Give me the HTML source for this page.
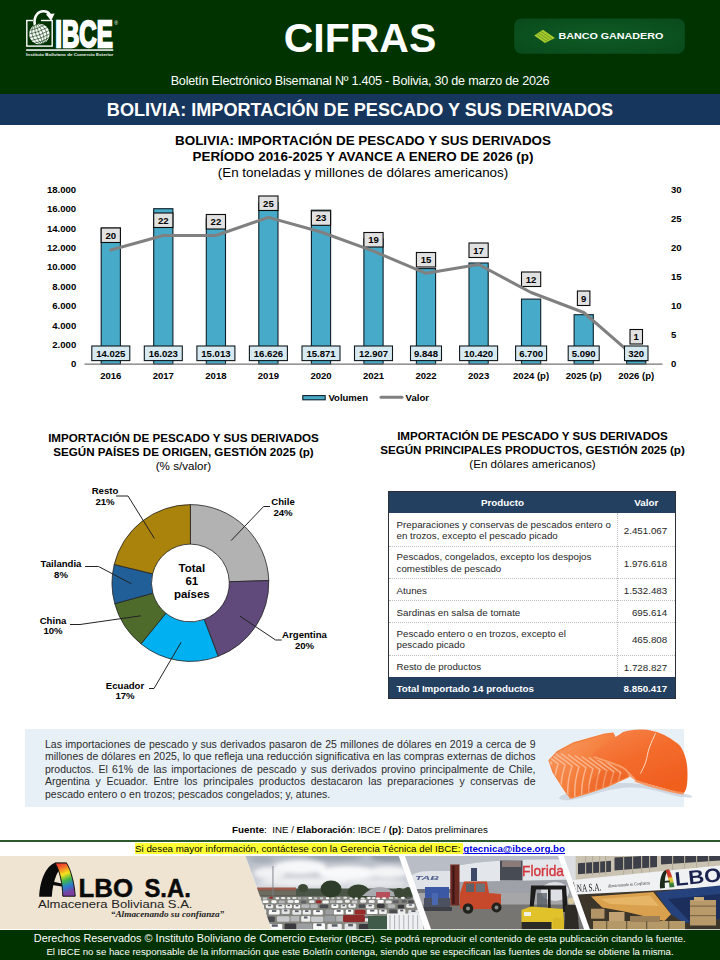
<!DOCTYPE html>
<html lang="es">
<head>
<meta charset="utf-8">
<title>CIFRAS - IBCE</title>
<style>
html,body{margin:0;padding:0;}
body{width:720px;height:960px;position:relative;overflow:hidden;background:#fff;font-family:"Liberation Sans",sans-serif;color:#000;}
.abs{position:absolute;}
#hdr{left:0;top:0;width:720px;height:94px;background:#003300;}
#cifras{left:0;top:15px;width:720px;text-align:center;color:#fff;font-weight:bold;font-size:41px;line-height:46px;}
#sub{left:0;top:72.2px;width:720px;text-align:center;color:#fff;font-size:12.6px;letter-spacing:-0.22px;line-height:18px;}
#bar{left:0;top:93.8px;width:720px;height:31.2px;background:#17365d;}
#bartxt{left:0;top:95px;width:720px;height:31px;line-height:31px;text-align:center;color:#fff;font-weight:bold;font-size:18.1px;}
svg{position:absolute;left:0;top:0;overflow:visible;}
svg text{font-family:"Liberation Sans",sans-serif;}
.ct{left:0;width:720px;text-align:center;font-size:13.45px;line-height:16px;font-weight:bold;}
.ct span{font-weight:normal;}

.t2{font-size:11.62px;line-height:13.75px;font-weight:bold;text-align:center;white-space:nowrap;}
.t2 span{font-weight:normal;}
#tbl{left:388px;top:491px;width:288px;border-collapse:collapse;font-size:10px;line-height:11.5px;color:#262626;}

.th{background:#244061;}
.thx{color:#fff;font-weight:bold;font-size:9.8px;text-align:center;white-space:nowrap;}
.td{font-size:9.78px;line-height:11.5px;color:#262626;white-space:nowrap;}

#pbox{left:25px;top:729px;width:659px;height:77.5px;background:#e8f0f7;}
#ptxt{left:45px;top:737.5px;width:490.5px;font-size:10.5px;line-height:12.5px;color:#2b2b2b;text-align:justify;text-align-last:left;}
#ptxt div{text-align:justify;text-align-last:justify;white-space:nowrap;}
#ptxt div.last{text-align-last:left;}
#fuente{left:0;top:824px;width:720px;text-align:center;font-size:9.76px;line-height:12px;white-space:nowrap;}
#gline{left:0;top:839.8px;width:720px;height:1.8px;background:#2d5a2d;}
#yl{left:135px;top:843.3px;height:11px;line-height:11.6px;font-size:9.77px;white-space:nowrap;}
#yl span.y{background:#ffff33;display:inline-block;height:11px;}
#yl b{color:#0000e0;text-decoration:underline;}

#banner{left:0;top:856px;width:720px;height:73.2px;background:#efe4d1;}
#foot{left:0;top:930px;width:720px;height:30px;background:#003300;}
.ft{color:#fff;white-space:nowrap;}
#ft1{left:33.8px;top:932.4px;font-size:10.9px;line-height:13px;letter-spacing:0px;}
#ft1 span{font-size:9.9px;letter-spacing:-0.04px;}
#ft2{left:46.4px;top:944.5px;font-size:9.7px;line-height:13px;letter-spacing:-0.035px;}
</style>
</head>
<body>
<div id="hdr" class="abs"></div>
<div id="cifras" class="abs">CIFRAS</div>
<div id="sub" class="abs">Boletín Electrónico Bisemanal Nº 1.405 - Bolivia, 30 de marzo de 2026</div>
<div id="bar" class="abs"></div>
<div id="bartxt" class="abs">BOLIVIA: IMPORTACIÓN DE PESCADO Y SUS DERIVADOS</div>
<div class="abs ct" style="top:133.4px;left:3px;">BOLIVIA: IMPORTACIÓN DE PESCADO Y SUS DERIVADOS<br>PERÍODO 2016-2025 Y AVANCE A ENERO DE 2026 (p)<br><span>(En toneladas y millones de dólares americanos)</span></div>
<svg width="720" height="960" viewBox="0 0 720 960">
<text x="76.2" y="367.4" text-anchor="end" font-size="9.55" font-weight="bold">0</text>
<text x="76.2" y="348.0" text-anchor="end" font-size="9.55" font-weight="bold">2.000</text>
<text x="76.2" y="328.6" text-anchor="end" font-size="9.55" font-weight="bold">4.000</text>
<text x="76.2" y="309.2" text-anchor="end" font-size="9.55" font-weight="bold">6.000</text>
<text x="76.2" y="289.8" text-anchor="end" font-size="9.55" font-weight="bold">8.000</text>
<text x="76.2" y="270.4" text-anchor="end" font-size="9.55" font-weight="bold">10.000</text>
<text x="76.2" y="251.0" text-anchor="end" font-size="9.55" font-weight="bold">12.000</text>
<text x="76.2" y="231.6" text-anchor="end" font-size="9.55" font-weight="bold">14.000</text>
<text x="76.2" y="212.2" text-anchor="end" font-size="9.55" font-weight="bold">16.000</text>
<text x="76.2" y="192.8" text-anchor="end" font-size="9.55" font-weight="bold">18.000</text>
<text x="671" y="367.4" font-size="9.55" font-weight="bold">0</text>
<text x="671" y="338.3" font-size="9.55" font-weight="bold">5</text>
<text x="671" y="309.2" font-size="9.55" font-weight="bold">10</text>
<text x="671" y="280.1" font-size="9.55" font-weight="bold">15</text>
<text x="671" y="251.1" font-size="9.55" font-weight="bold">20</text>
<text x="671" y="222.0" font-size="9.55" font-weight="bold">25</text>
<text x="671" y="192.9" font-size="9.55" font-weight="bold">30</text>
<rect x="101.2" y="228.1" width="19.2" height="136.0" fill="#47aac8" stroke="#0e2028" stroke-width="1.1"/>
<rect x="153.7" y="208.7" width="19.2" height="155.4" fill="#47aac8" stroke="#0e2028" stroke-width="1.1"/>
<rect x="206.3" y="218.5" width="19.2" height="145.6" fill="#47aac8" stroke="#0e2028" stroke-width="1.1"/>
<rect x="258.8" y="202.8" width="19.2" height="161.3" fill="#47aac8" stroke="#0e2028" stroke-width="1.1"/>
<rect x="311.4" y="210.2" width="19.2" height="153.9" fill="#47aac8" stroke="#0e2028" stroke-width="1.1"/>
<rect x="363.9" y="238.9" width="19.2" height="125.2" fill="#47aac8" stroke="#0e2028" stroke-width="1.1"/>
<rect x="416.4" y="268.6" width="19.2" height="95.5" fill="#47aac8" stroke="#0e2028" stroke-width="1.1"/>
<rect x="469.0" y="263.0" width="19.2" height="101.1" fill="#47aac8" stroke="#0e2028" stroke-width="1.1"/>
<rect x="521.5" y="299.1" width="19.2" height="65.0" fill="#47aac8" stroke="#0e2028" stroke-width="1.1"/>
<rect x="574.1" y="314.7" width="19.2" height="49.4" fill="#47aac8" stroke="#0e2028" stroke-width="1.1"/>
<rect x="626.6" y="361.0" width="19.2" height="3.1" fill="#47aac8" stroke="#0e2028" stroke-width="1.1"/>
<line x1="84.5" y1="364.1" x2="662.5" y2="364.1" stroke="#747474" stroke-width="1.4"/>
<rect x="101.2" y="228.0" width="19.2" height="14.5" fill="#e1e1e1" stroke="#0c0c0c" stroke-width="1.1"/>
<text x="110.8" y="238.7" text-anchor="middle" font-size="9.55" font-weight="bold">20</text>
<rect x="153.7" y="213.0" width="19.2" height="14.5" fill="#e1e1e1" stroke="#0c0c0c" stroke-width="1.1"/>
<text x="163.3" y="223.7" text-anchor="middle" font-size="9.55" font-weight="bold">22</text>
<rect x="206.3" y="214.5" width="19.2" height="14.5" fill="#e1e1e1" stroke="#0c0c0c" stroke-width="1.1"/>
<text x="215.9" y="225.2" text-anchor="middle" font-size="9.55" font-weight="bold">22</text>
<rect x="258.8" y="196.0" width="19.2" height="14.5" fill="#e1e1e1" stroke="#0c0c0c" stroke-width="1.1"/>
<text x="268.4" y="206.7" text-anchor="middle" font-size="9.55" font-weight="bold">25</text>
<rect x="311.4" y="210.8" width="19.2" height="14.5" fill="#e1e1e1" stroke="#0c0c0c" stroke-width="1.1"/>
<text x="321.0" y="221.4" text-anchor="middle" font-size="9.55" font-weight="bold">23</text>
<rect x="363.9" y="232.5" width="19.2" height="14.5" fill="#e1e1e1" stroke="#0c0c0c" stroke-width="1.1"/>
<text x="373.5" y="243.2" text-anchor="middle" font-size="9.55" font-weight="bold">19</text>
<rect x="416.4" y="252.5" width="19.2" height="14.5" fill="#e1e1e1" stroke="#0c0c0c" stroke-width="1.1"/>
<text x="426.0" y="263.2" text-anchor="middle" font-size="9.55" font-weight="bold">15</text>
<rect x="469.0" y="243.0" width="19.2" height="14.5" fill="#e1e1e1" stroke="#0c0c0c" stroke-width="1.1"/>
<text x="478.6" y="253.7" text-anchor="middle" font-size="9.55" font-weight="bold">17</text>
<rect x="521.5" y="272.0" width="19.2" height="14.5" fill="#e1e1e1" stroke="#0c0c0c" stroke-width="1.1"/>
<text x="531.1" y="282.7" text-anchor="middle" font-size="9.55" font-weight="bold">12</text>
<rect x="577.4" y="291.0" width="12.5" height="14.5" fill="#e1e1e1" stroke="#0c0c0c" stroke-width="1.1"/>
<text x="583.7" y="301.7" text-anchor="middle" font-size="9.55" font-weight="bold">9</text>
<rect x="630.0" y="329.5" width="12.5" height="14.5" fill="#e1e1e1" stroke="#0c0c0c" stroke-width="1.1"/>
<text x="636.2" y="340.2" text-anchor="middle" font-size="9.55" font-weight="bold">1</text>
<polyline points="110.8,250.0 163.3,235.5 215.9,235.5 268.4,217.4 321.0,232.0 373.5,251.2 426.0,273.3 478.6,264.5 531.1,292.5 583.7,312.5 636.2,358.2" fill="none" stroke="#808080" stroke-width="3" stroke-linejoin="round" stroke-linecap="round"/>
<rect x="91.8" y="346" width="38" height="14.6" fill="#d7e9f1" stroke="#10181c" stroke-width="1.1"/>
<text x="110.8" y="356.8" text-anchor="middle" font-size="9.55" font-weight="bold">14.025</text>
<text x="110.8" y="379" text-anchor="middle" font-size="9.55" font-weight="bold">2016</text>
<rect x="144.3" y="346" width="38" height="14.6" fill="#d7e9f1" stroke="#10181c" stroke-width="1.1"/>
<text x="163.3" y="356.8" text-anchor="middle" font-size="9.55" font-weight="bold">16.023</text>
<text x="163.3" y="379" text-anchor="middle" font-size="9.55" font-weight="bold">2017</text>
<rect x="196.9" y="346" width="38" height="14.6" fill="#d7e9f1" stroke="#10181c" stroke-width="1.1"/>
<text x="215.9" y="356.8" text-anchor="middle" font-size="9.55" font-weight="bold">15.013</text>
<text x="215.9" y="379" text-anchor="middle" font-size="9.55" font-weight="bold">2018</text>
<rect x="249.4" y="346" width="38" height="14.6" fill="#d7e9f1" stroke="#10181c" stroke-width="1.1"/>
<text x="268.4" y="356.8" text-anchor="middle" font-size="9.55" font-weight="bold">16.626</text>
<text x="268.4" y="379" text-anchor="middle" font-size="9.55" font-weight="bold">2019</text>
<rect x="302.0" y="346" width="38" height="14.6" fill="#d7e9f1" stroke="#10181c" stroke-width="1.1"/>
<text x="321.0" y="356.8" text-anchor="middle" font-size="9.55" font-weight="bold">15.871</text>
<text x="321.0" y="379" text-anchor="middle" font-size="9.55" font-weight="bold">2020</text>
<rect x="354.5" y="346" width="38" height="14.6" fill="#d7e9f1" stroke="#10181c" stroke-width="1.1"/>
<text x="373.5" y="356.8" text-anchor="middle" font-size="9.55" font-weight="bold">12.907</text>
<text x="373.5" y="379" text-anchor="middle" font-size="9.55" font-weight="bold">2021</text>
<rect x="410.5" y="346" width="31" height="14.6" fill="#d7e9f1" stroke="#10181c" stroke-width="1.1"/>
<text x="426.0" y="356.8" text-anchor="middle" font-size="9.55" font-weight="bold">9.848</text>
<text x="426.0" y="379" text-anchor="middle" font-size="9.55" font-weight="bold">2022</text>
<rect x="459.6" y="346" width="38" height="14.6" fill="#d7e9f1" stroke="#10181c" stroke-width="1.1"/>
<text x="478.6" y="356.8" text-anchor="middle" font-size="9.55" font-weight="bold">10.420</text>
<text x="478.6" y="379" text-anchor="middle" font-size="9.55" font-weight="bold">2023</text>
<rect x="515.6" y="346" width="31" height="14.6" fill="#d7e9f1" stroke="#10181c" stroke-width="1.1"/>
<text x="531.1" y="356.8" text-anchor="middle" font-size="9.55" font-weight="bold">6.700</text>
<text x="531.1" y="379" text-anchor="middle" font-size="9.55" font-weight="bold">2024 (p)</text>
<rect x="568.2" y="346" width="31" height="14.6" fill="#d7e9f1" stroke="#10181c" stroke-width="1.1"/>
<text x="583.7" y="356.8" text-anchor="middle" font-size="9.55" font-weight="bold">5.090</text>
<text x="583.7" y="379" text-anchor="middle" font-size="9.55" font-weight="bold">2025 (p)</text>
<rect x="624.5" y="346" width="23.5" height="14.6" fill="#d7e9f1" stroke="#10181c" stroke-width="1.1"/>
<text x="636.2" y="356.8" text-anchor="middle" font-size="9.55" font-weight="bold">320</text>
<text x="636.2" y="379" text-anchor="middle" font-size="9.55" font-weight="bold">2026 (p)</text>
<rect x="302.8" y="395.6" width="22.4" height="4.2" fill="#47aac8" stroke="#0e2028" stroke-width="1.1"/>
<text x="328.4" y="400.6" font-size="9.55" font-weight="bold">Volumen</text>
<line x1="381" y1="397.3" x2="402" y2="397.3" stroke="#808080" stroke-width="3" stroke-linecap="round"/>
<text x="405.6" y="400.6" font-size="9.55" font-weight="bold">Valor</text>
</svg>
<svg width="720" height="130" viewBox="0 0 720 130">
<rect x="26.8" y="20.5" width="25.4" height="25.6" fill="none" stroke="#fff" stroke-width="1.4"/>
<rect x="33" y="19" width="8" height="3" fill="#003300"/>
<circle cx="39.4" cy="34" r="10.3" fill="#fff"/>
<g stroke="#003300" stroke-width="0.55" fill="none" transform="rotate(-20 39.4 34)">
<ellipse cx="39.4" cy="34" rx="3.4" ry="10.3"/>
<ellipse cx="39.4" cy="34" rx="7.2" ry="10.3"/>
<line x1="39.4" y1="23.7" x2="39.4" y2="44.3"/>
<path d="M31.7,27.2 Q39.4,28.8 47.1,27.2"/>
<path d="M29.7,30.6 Q39.4,32.2 49.1,30.6"/>
<path d="M29.1,34.0 Q39.4,35.6 49.7,34.0"/>
<path d="M29.7,37.4 Q39.4,39.0 49.1,37.4"/>
<path d="M31.7,40.8 Q39.4,42.4 47.1,40.8"/>
</g>
<path d="M33.6,25.5 C31.8,15.5 37.5,9.6 44,10 C48.5,10.3 50.8,12.5 51.3,15.2 L48.2,15.6 C47.5,13.6 46,12.6 43.6,12.5 C39,12.4 35,16.5 36,24.3 Z" fill="#fff"/>
<path d="M45.9,14.2 L54.6,13.4 L51.2,20.8 Z" fill="#fff"/>
<text x="55.3" y="46.6" font-size="36.8" font-weight="bold" fill="#fff" stroke="#fff" stroke-width="2.3" stroke-linejoin="miter" textLength="57.4" lengthAdjust="spacingAndGlyphs">IBCE</text>
<text x="114.3" y="25.3" font-size="5" fill="#fff">®</text>
<rect x="26.1" y="49.3" width="87.2" height="1.5" fill="#fff"/>
<text x="26.1" y="56.3" font-size="4.2" font-weight="bold" fill="#e8efe8" textLength="87.2" lengthAdjust="spacingAndGlyphs">Instituto Boliviano de Comercio Exterior</text>
</svg>
<svg width="720" height="130" viewBox="0 0 720 130">
<defs><radialGradient id="bg" cx="0.5" cy="0.5" r="0.75"><stop offset="0" stop-color="#0e5c25"/><stop offset="1" stop-color="#09481b"/></radialGradient></defs>
<rect x="514.2" y="18.4" width="170.6" height="35.3" rx="7.5" fill="url(#bg)"/>
<path d="M534.2,35.4 L542.9,29.8 L555,37.9 L545,42.9 Z" fill="#a9cb2e"/>
<path d="M540.6,31.3 L552.3,39.2 M538.4,32.7 L549.8,40.5 M536.2,34.1 L547.3,41.8 " stroke="#5f8f1c" stroke-width="0.8" fill="none"/>
<text x="558.4" y="38.9" font-size="9.3" font-weight="bold" fill="#fff" textLength="105" lengthAdjust="spacingAndGlyphs">BANCO GANADERO</text>
</svg>
<div class="abs t2" style="left:0;top:431.1px;width:367px;">IMPORTACIÓN DE PESCADO Y SUS DERIVADOS<br>SEGÚN PAÍSES DE ORIGEN, GESTIÓN 2025 (p)<br><span>(% s/valor)</span></div>
<svg width="720" height="960" viewBox="0 0 720 960">
<path d="M190.40,504.60 A78.4,78.4 0 0 1 268.76,580.54 L229.28,581.78 A38.9,38.9 0 0 0 190.40,544.10 Z" fill="#b2b2b2" stroke="#222" stroke-width="0.8" stroke-linejoin="round"/>
<path d="M268.76,580.54 A78.4,78.4 0 0 1 218.11,656.34 L204.15,619.39 A38.9,38.9 0 0 0 229.28,581.78 Z" fill="#604a7b" stroke="#222" stroke-width="0.8" stroke-linejoin="round"/>
<path d="M218.11,656.34 A78.4,78.4 0 0 1 141.00,643.88 L165.89,613.21 A38.9,38.9 0 0 0 204.15,619.39 Z" fill="#00b0f0" stroke="#222" stroke-width="0.8" stroke-linejoin="round"/>
<path d="M141.00,643.88 A78.4,78.4 0 0 1 114.78,603.69 L152.88,593.26 A38.9,38.9 0 0 0 165.89,613.21 Z" fill="#4f6b2c" stroke="#222" stroke-width="0.8" stroke-linejoin="round"/>
<path d="M114.78,603.69 A78.4,78.4 0 0 1 114.22,564.46 L152.60,573.80 A38.9,38.9 0 0 0 152.88,593.26 Z" fill="#215f99" stroke="#222" stroke-width="0.8" stroke-linejoin="round"/>
<path d="M114.22,564.46 A78.4,78.4 0 0 1 190.40,504.60 L190.40,544.10 A38.9,38.9 0 0 0 152.60,573.80 Z" fill="#a9830b" stroke="#222" stroke-width="0.8" stroke-linejoin="round"/>
<polyline points="231.1,540.6 263.6,506.5 270,506.5" fill="none" stroke="#222" stroke-width="1"/>
<polyline points="240,616.2 275.6,640 281.7,640" fill="none" stroke="#222" stroke-width="1"/>
<polyline points="181.1,642.3 154,688.5 149,688.5" fill="none" stroke="#222" stroke-width="1"/>
<polyline points="140.8,615.8 80,624.5 70,624.5" fill="none" stroke="#222" stroke-width="1"/>
<polyline points="131.5,583.8 98.5,566.5 85,566.5" fill="none" stroke="#222" stroke-width="1"/>
<polyline points="154.4,538.5 128,496 116,496" fill="none" stroke="#222" stroke-width="1"/>
<text x="283" y="504.8" text-anchor="middle" font-size="9.6" font-weight="bold">Chile</text>
<text x="283" y="515.55" text-anchor="middle" font-size="9.6" font-weight="bold">24%</text>
<text x="304.5" y="638.2" text-anchor="middle" font-size="9.6" font-weight="bold">Argentina</text>
<text x="304.5" y="648.95" text-anchor="middle" font-size="9.6" font-weight="bold">20%</text>
<text x="125" y="688.5" text-anchor="middle" font-size="9.6" font-weight="bold">Ecuador</text>
<text x="125" y="699.25" text-anchor="middle" font-size="9.6" font-weight="bold">17%</text>
<text x="53" y="623.5" text-anchor="middle" font-size="9.6" font-weight="bold">China</text>
<text x="53" y="634.25" text-anchor="middle" font-size="9.6" font-weight="bold">10%</text>
<text x="61" y="567" text-anchor="middle" font-size="9.6" font-weight="bold">Tailandia</text>
<text x="61" y="577.75" text-anchor="middle" font-size="9.6" font-weight="bold">8%</text>
<text x="105" y="494.3" text-anchor="middle" font-size="9.6" font-weight="bold">Resto</text>
<text x="105" y="505.05" text-anchor="middle" font-size="9.6" font-weight="bold">21%</text>
<text x="191.8" y="571.8" text-anchor="middle" font-size="11.5" font-weight="bold">Total</text>
<text x="191.8" y="585.0" text-anchor="middle" font-size="11.5" font-weight="bold">61</text>
<text x="191.8" y="598.2" text-anchor="middle" font-size="11.5" font-weight="bold">países</text>
</svg>
<div class="abs t2" style="left:345px;top:429.1px;width:375px;">IMPORTACIÓN DE PESCADO Y SUS DERIVADOS<br>SEGÚN PRINCIPALES PRODUCTOS, GESTIÓN 2025 (p)<br><span>(En dólares americanos)</span></div>
<div class="abs" id="tblwrap">
<div class="abs th" style="left:388px;top:491px;width:287.5px;height:22px;"></div>
<div class="abs thx" style="left:388px;top:491.3px;width:229px;height:21.2px;line-height:23.4px;">Producto</div>
<div class="abs thx" style="left:617px;top:491.3px;width:58.5px;height:21.2px;line-height:23.4px;">Valor</div>
<div class="abs td" style="left:396.5px;top:518.5px;">Preparaciones y conservas de pescados entero o<br>en trozos, excepto el pescado picado</div>
<div class="abs td" style="left:617px;width:50.2px;text-align:right;top:525.0px;">2.451.067</div>
<div class="abs" style="left:389px;top:545.5px;width:285.5px;border-top:1px dotted #bdbdbd;"></div>
<div class="abs td" style="left:396.5px;top:551.3px;">Pescados, congelados, excepto los despojos<br>comestibles de pescado</div>
<div class="abs td" style="left:617px;width:50.2px;text-align:right;top:557.8px;">1.976.618</div>
<div class="abs" style="left:389px;top:577.5px;width:285.5px;border-top:1px dotted #bdbdbd;"></div>
<div class="abs td" style="left:396.5px;top:584.5px;">Atunes</div>
<div class="abs td" style="left:617px;width:50.2px;text-align:right;top:585.0px;">1.532.483</div>
<div class="abs" style="left:389px;top:600.0px;width:285.5px;border-top:1px dotted #bdbdbd;"></div>
<div class="abs td" style="left:396.5px;top:606.5px;">Sardinas en salsa de tomate</div>
<div class="abs td" style="left:617px;width:50.2px;text-align:right;top:607.0px;">695.614</div>
<div class="abs" style="left:389px;top:621.5px;width:285.5px;border-top:1px dotted #bdbdbd;"></div>
<div class="abs td" style="left:396.5px;top:627.8px;">Pescado entero o en trozos, excepto el<br>pescado picado</div>
<div class="abs td" style="left:617px;width:50.2px;text-align:right;top:634.2px;">465.808</div>
<div class="abs" style="left:389px;top:654.5px;width:285.5px;border-top:1px dotted #bdbdbd;"></div>
<div class="abs td" style="left:396.5px;top:661.2px;">Resto de productos</div>
<div class="abs td" style="left:617px;width:50.2px;text-align:right;top:661.8px;">1.728.827</div>
<div class="abs" style="left:616.5px;top:512.5px;height:164.5px;border-left:1px dotted #bdbdbd;"></div>
<div class="abs th" style="left:388px;top:677.0px;width:287.5px;height:21.8px;"></div>
<div class="abs thx" style="left:396.5px;top:677.0px;height:21.8px;line-height:23px;text-align:left;">Total Importado 14 productos</div>
<div class="abs thx" style="left:617px;width:50.2px;top:677.0px;height:21.8px;line-height:23px;text-align:right;">8.850.417</div>
<div class="abs" style="left:388px;top:491.3px;width:286.1px;height:206.1px;border:0.7px solid #2a2f38;"></div>
</div>
<div id="pbox" class="abs"></div>
<div id="ptxt" class="abs">
<div>Las importaciones de pescado y sus derivados pasaron de 25 millones de dólares en 2019 a cerca de 9</div>
<div>millones de dólares en 2025, lo que refleja una reducción significativa en las compras externas de dichos</div>
<div>productos. El 61% de las importaciones de pescado y sus derivados provino principalmente de Chile,</div>
<div>Argentina y Ecuador. Entre los principales productos destacaron las preparaciones y conservas de</div>
<div class="last">pescado entero o en trozos; pescados congelados; y, atunes.</div>
</div>
<div id="fuente" class="abs"><b>Fuente</b>:&nbsp; INE / <b>Elaboración</b>: IBCE / <b>(p)</b>: Datos preliminares</div>
<div id="gline" class="abs"></div>
<div id="yl" class="abs"><span class="y">Si desea mayor información, contáctese con la Gerencia Técnica del IBCE:&nbsp;</span><b>gtecnica@ibce.org.bo</b></div>
<svg width="720" height="960" viewBox="0 0 720 960">
<defs><linearGradient id="s1" x1="0" y1="0" x2="1" y2="0.8"><stop offset="0" stop-color="#f8a06a"/><stop offset="0.5" stop-color="#f5803f"/><stop offset="1" stop-color="#ee6424"/></linearGradient><linearGradient id="s2" x1="0" y1="0" x2="0.6" y2="1"><stop offset="0" stop-color="#f7854c"/><stop offset="0.5" stop-color="#f36c2c"/><stop offset="1" stop-color="#f05e1e"/></linearGradient><filter id="sb" x="-5%" y="-5%" width="110%" height="110%"><feGaussianBlur stdDeviation="0.45"/></filter><clipPath id="c1"><path d="M549.2,760.6 L557.5,751.6 L572.8,743.3 L592.2,737.7 L604.7,734.2 L613.1,733.3 L622.8,755.8 L628.8,776.6 L607.5,786.3 L586.7,793.3 L570.7,798.1 L565.8,791.9 L553.3,772.4 Z"/></clipPath></defs>
<path d="M565.4,794.0 C576.0,790.6 600.4,782.9 624.5,782.9 C648.5,782.9 674.5,791.2 685.8,794.0 C697.2,796.9 692.5,798.4 681.1,797.1 C669.8,795.8 651.1,787.1 629.2,787.6 C607.2,788.2 584.1,798.6 571.3,799.9 C558.6,801.2 554.8,797.4 565.4,794.0 Z" fill="#c5cfda" opacity="0.7" filter="url(#sb)"/>
<g filter="url(#sb)">
<path d="M549.2,760.6 L557.5,751.6 L572.8,743.3 L592.2,737.7 L604.7,734.2 L613.1,733.3 L622.8,755.8 L628.8,776.6 L607.5,786.3 L586.7,793.3 L570.7,798.1 L565.8,791.9 L553.3,772.4 Z" fill="url(#s1)" stroke="#f5803f" stroke-width="1.5" stroke-linejoin="round"/>
<g clip-path="url(#c1)" stroke="#fbc6a6" stroke-width="1.5" fill="none" opacity="0.75" stroke-linejoin="round">
<path d="M533.2,749.7 L551.2,762.9 Q545.0,782.3 547.8,799.0"/>
<path d="M540.1,750.6 L558.2,763.8 Q551.9,783.3 554.7,799.9"/>
<path d="M547.1,751.6 L565.1,764.8 Q558.9,784.2 561.7,800.9"/>
<path d="M554.0,752.6 L572.1,765.8 Q565.8,785.2 568.6,801.9"/>
<path d="M561.0,753.6 L579.0,766.8 Q572.8,786.2 575.6,802.9"/>
<path d="M567.9,754.5 L586.0,767.7 Q579.7,787.2 582.5,803.8"/>
<path d="M574.9,755.5 L592.9,768.7 Q586.7,788.1 589.4,804.8"/>
<path d="M581.8,756.5 L599.9,769.7 Q593.6,789.1 596.4,805.8"/>
<path d="M588.8,757.4 L606.8,770.6 Q600.6,790.1 603.3,806.8"/>
<path d="M595.7,758.4 L613.8,771.6 Q607.5,791.1 610.3,807.7"/>
<path d="M602.6,759.4 L620.7,772.6 Q614.4,792.0 617.2,808.7"/>
</g>
<path d="M603.3,769.7 L628.8,776.6 L607.5,786.3 L586.7,793.3 L590.8,780.8 Z" fill="#ec5f22" opacity="0.35" clip-path="url(#c1)"/>
<path d="M592.6,756.5 C592.1,753.2 598.5,749.6 603.2,745.6 C607.9,741.6 611.0,739.7 616.2,736.6 C621.4,733.6 621.9,731.6 629.2,730.5 C636.5,729.4 643.8,728.9 652.8,731.0 C661.8,733.1 667.8,736.5 674.0,740.9 C680.3,745.3 681.3,746.6 684.0,753.2 C686.6,759.8 687.5,766.0 687.5,773.9 C687.5,781.9 687.1,789.5 684.0,792.8 C680.8,796.1 677.9,792.0 671.7,790.5 C665.4,789.0 660.3,787.5 652.8,785.3 C645.2,783.0 640.0,782.7 633.9,779.1 C627.8,775.6 627.8,770.7 622.1,767.3 C616.4,763.9 611.5,764.3 605.6,762.1 C599.7,760.0 593.0,759.8 592.6,756.5 Z" fill="url(#s2)"/>
<path d="M593.8,756.9 C596.6,757.9 602.0,759.4 607.9,761.7 C613.8,763.9 617.8,764.4 623.3,768.0 C628.7,771.7 632.7,777.5 635.1,779.9" fill="none" stroke="#f9a878" stroke-width="1.8" opacity="0.85"/>
<path d="M655.6,733.3 C654.3,736.3 651.2,742.2 649.2,748.0 C647.3,753.7 647.4,757.0 645.7,762.1 C644.0,767.2 641.5,771.2 640.5,773.5" fill="none" stroke="#fde3d2" stroke-width="1" opacity="0.9"/>
<path d="M635.1,780.6 C638.6,781.7 645.5,784.3 652.8,786.5 C660.1,788.6 665.5,790.0 671.7,791.4 C677.8,792.8 681.1,793.1 683.5,793.5" fill="none" stroke="#f7905a" stroke-width="2.2" opacity="0.9"/>
</g>
</svg>
<div id="banner" class="abs"></div>
<svg width="720" height="960" viewBox="0 0 720 960">
<defs><filter id="b1" x="-5%" y="-5%" width="110%" height="110%"><feGaussianBlur stdDeviation="0.7"/></filter><filter id="b2" x="-10%" y="-10%" width="120%" height="120%"><feGaussianBlur stdDeviation="2.2"/></filter><clipPath id="p1"><path d="M245.5,856 L398.7,856 L424.5,929.2 L271.7,929.2 Z"/></clipPath><clipPath id="p2"><path d="M404.9,856 L558,856 L584.1,929.2 L431.1,929.2 Z"/></clipPath><clipPath id="p3"><path d="M563.7,856 L720,856 L720,929.2 L589.9,929.2 Z"/></clipPath><linearGradient id="sky" x1="0" y1="0" x2="0" y2="1"><stop offset="0" stop-color="#b3b9c3"/><stop offset="0.5" stop-color="#d9dce1"/><stop offset="1" stop-color="#e6e8eb"/></linearGradient></defs>
<path d="M245.5,856 L720,856 L720,929.2 L271.7,929.2 Z" fill="#fdfdfd"/>
<g clip-path="url(#p1)">
<rect x="240" y="855" width="190" height="75" fill="url(#sky)"/>
<g filter="url(#b2)">
<ellipse cx="300" cy="867" rx="26" ry="7" fill="#f7f8f9"/>
<ellipse cx="348" cy="873" rx="30" ry="7" fill="#f8f9fa"/>
<ellipse cx="270" cy="873" rx="16" ry="6" fill="#f1f2f4"/>
<ellipse cx="388" cy="872" rx="20" ry="6" fill="#f3f4f6"/>
<ellipse cx="335" cy="857" rx="28" ry="3.5" fill="#98a0ab"/>
<ellipse cx="392" cy="857" rx="22" ry="4.5" fill="#8f97a3"/>
<ellipse cx="262" cy="859" rx="12" ry="3.5" fill="#a4abb5"/>
<ellipse cx="305" cy="882" rx="45" ry="4" fill="#eff0f2"/>
<ellipse cx="375" cy="883" rx="30" ry="3" fill="#e9ebee"/>
</g>
<g filter="url(#b1)">
<rect x="240" y="893" width="190" height="40" fill="#84857f"/>
<rect x="250" y="888.5" width="175" height="8" fill="#4b5546"/>
<rect x="257" y="887.5" width="39" height="3" fill="#9a5a48"/><rect x="257" y="890.5" width="39" height="5" fill="#6d6a60"/>
<ellipse cx="331" cy="889" rx="10.5" ry="8.5" fill="#2f3d2a"/><ellipse cx="358.5" cy="892" rx="11" ry="7.5" fill="#34422e"/><ellipse cx="303" cy="888" rx="5" ry="4" fill="#3d4a36"/>
<path d="M362,896 Q380,878 398,896 Z" fill="#a7abb0"/>
<ellipse cx="399" cy="893" rx="5" ry="5" fill="#3b4735"/><ellipse cx="408" cy="893" rx="5" ry="6" fill="#3b4735"/>
<rect x="376" y="892" width="14" height="6" fill="#b7505a"/>
<rect x="272.5" y="866" width="0.9" height="30" fill="#7b7f86"/>
<rect x="247.6" y="897.5" width="3.3" height="2.0" rx="0.8" fill="#b4b6b8"/>
<rect x="251.9" y="896.8" width="3.9" height="2.0" rx="0.8" fill="#4a4c50"/>
<rect x="257.6" y="896.8" width="3.2" height="2.0" rx="0.8" fill="#e2e3e4"/>
<rect x="262.8" y="897.6" width="4.4" height="2.0" rx="0.8" fill="#c9cacc"/>
<rect x="269.3" y="896.8" width="3.6" height="2.0" rx="0.8" fill="#9a2a28"/>
<rect x="275.6" y="897.3" width="3.5" height="2.0" rx="0.8" fill="#f6f6f6"/>
<rect x="281.1" y="897.1" width="4.0" height="2.0" rx="0.8" fill="#ededee"/>
<rect x="287.1" y="897.2" width="3.2" height="2.0" rx="0.8" fill="#ededee"/>
<rect x="292.3" y="897.1" width="4.2" height="2.0" rx="0.8" fill="#e2e3e4"/>
<rect x="297.8" y="897.3" width="3.3" height="2.0" rx="0.8" fill="#b4b6b8"/>
<rect x="303.1" y="897.3" width="4.3" height="2.0" rx="0.8" fill="#9c9fa2"/>
<rect x="308.3" y="896.9" width="3.8" height="2.0" rx="0.8" fill="#fbfbfb"/>
<rect x="314.0" y="897.3" width="3.1" height="2.0" rx="0.8" fill="#c9cacc"/>
<rect x="319.8" y="897.2" width="3.5" height="2.0" rx="0.8" fill="#c9cacc"/>
<rect x="325.9" y="897.2" width="3.2" height="2.0" rx="0.8" fill="#fbfbfb"/>
<rect x="331.3" y="897.3" width="3.1" height="2.0" rx="0.8" fill="#c9cacc"/>
<rect x="336.8" y="897.1" width="3.7" height="2.0" rx="0.8" fill="#c9cacc"/>
<rect x="343.4" y="896.8" width="3.6" height="2.0" rx="0.8" fill="#e2e3e4"/>
<rect x="349.4" y="897.5" width="3.2" height="2.0" rx="0.8" fill="#e2e3e4"/>
<rect x="354.6" y="897.5" width="3.3" height="2.0" rx="0.8" fill="#fbfbfb"/>
<rect x="360.5" y="897.6" width="4.3" height="2.0" rx="0.8" fill="#e2e3e4"/>
<rect x="367.1" y="896.9" width="3.6" height="2.0" rx="0.8" fill="#f6f6f6"/>
<rect x="372.0" y="897.0" width="3.4" height="2.0" rx="0.8" fill="#ededee"/>
<rect x="376.2" y="897.6" width="3.7" height="2.0" rx="0.8" fill="#fbfbfb"/>
<rect x="382.2" y="897.2" width="3.8" height="2.0" rx="0.8" fill="#f6f6f6"/>
<rect x="388.7" y="897.1" width="4.4" height="2.0" rx="0.8" fill="#c9cacc"/>
<rect x="394.8" y="897.0" width="3.2" height="2.0" rx="0.8" fill="#b4b6b8"/>
<rect x="401.0" y="896.9" width="3.7" height="2.0" rx="0.8" fill="#f6f6f6"/>
<rect x="406.7" y="896.8" width="3.8" height="2.0" rx="0.8" fill="#5e6165"/>
<rect x="413.3" y="897.6" width="3.9" height="2.0" rx="0.8" fill="#fbfbfb"/>
<rect x="419.3" y="897.6" width="3.7" height="2.0" rx="0.8" fill="#e2e3e4"/>
<rect x="424.9" y="897.4" width="3.8" height="2.0" rx="0.8" fill="#f6f6f6"/>
<rect x="248.4" y="900.6" width="6.0" height="2.9" rx="1.2" fill="#ededee"/>
<rect x="256.3" y="900.4" width="4.8" height="2.9" rx="1.2" fill="#f6f6f6"/>
<rect x="262.6" y="900.2" width="5.9" height="2.9" rx="1.2" fill="#fbfbfb"/>
<rect x="271.3" y="900.3" width="5.3" height="2.9" rx="1.2" fill="#fbfbfb"/>
<rect x="278.7" y="900.4" width="6.2" height="2.9" rx="1.2" fill="#b4b6b8"/>
<rect x="287.5" y="900.1" width="6.1" height="2.9" rx="1.2" fill="#e2e3e4"/>
<rect x="294.4" y="900.0" width="4.6" height="2.9" rx="1.2" fill="#fbfbfb"/>
<rect x="301.1" y="900.6" width="5.2" height="2.9" rx="1.2" fill="#5e6165"/>
<rect x="309.2" y="900.2" width="5.3" height="2.9" rx="1.2" fill="#ededee"/>
<rect x="316.0" y="900.3" width="5.5" height="2.9" rx="1.2" fill="#9a2a28"/>
<rect x="322.4" y="900.5" width="6.4" height="2.9" rx="1.2" fill="#f6f6f6"/>
<rect x="329.9" y="900.2" width="5.3" height="2.9" rx="1.2" fill="#b4b6b8"/>
<rect x="336.4" y="900.2" width="6.2" height="2.9" rx="1.2" fill="#e2e3e4"/>
<rect x="345.0" y="899.8" width="4.7" height="2.9" rx="1.2" fill="#ededee"/>
<rect x="351.8" y="900.5" width="5.5" height="2.9" rx="1.2" fill="#c9cacc"/>
<rect x="360.2" y="899.8" width="5.9" height="2.9" rx="1.2" fill="#ededee"/>
<rect x="368.7" y="900.1" width="6.0" height="2.9" rx="1.2" fill="#ededee"/>
<rect x="377.5" y="900.0" width="6.3" height="2.9" rx="1.2" fill="#fbfbfb"/>
<rect x="385.6" y="900.5" width="6.1" height="2.9" rx="1.2" fill="#e2e3e4"/>
<rect x="392.7" y="900.3" width="6.1" height="2.9" rx="1.2" fill="#5e6165"/>
<rect x="401.5" y="899.9" width="5.4" height="2.9" rx="1.2" fill="#5e6165"/>
<rect x="408.1" y="900.3" width="5.6" height="2.9" rx="1.2" fill="#4a4c50"/>
<rect x="416.2" y="900.2" width="4.8" height="2.9" rx="1.2" fill="#f6f6f6"/>
<rect x="422.5" y="900.5" width="5.6" height="2.9" rx="1.2" fill="#f6f6f6"/>
<rect x="247.0" y="904.4" width="6.1" height="3.8" rx="1.2" fill="#e2e3e4"/>
<rect x="248.8" y="904.7" width="2.4" height="1.4" fill="#5a5f66"/>
<rect x="255.5" y="904.5" width="8.5" height="3.8" rx="1.2" fill="#ededee"/>
<rect x="258.0" y="904.8" width="3.4" height="1.4" fill="#5a5f66"/>
<rect x="265.8" y="904.5" width="7.4" height="3.8" rx="1.2" fill="#ededee"/>
<rect x="268.0" y="904.8" width="3.0" height="1.4" fill="#5a5f66"/>
<rect x="276.0" y="904.6" width="8.6" height="3.8" rx="1.2" fill="#ededee"/>
<rect x="278.5" y="904.9" width="3.4" height="1.4" fill="#5a5f66"/>
<rect x="285.7" y="904.5" width="6.3" height="3.8" rx="1.2" fill="#f6f6f6"/>
<rect x="287.5" y="904.8" width="2.5" height="1.4" fill="#5a5f66"/>
<rect x="293.7" y="904.7" width="6.5" height="3.8" rx="1.2" fill="#f6f6f6"/>
<rect x="295.7" y="905.0" width="2.6" height="1.4" fill="#5a5f66"/>
<rect x="301.4" y="904.2" width="8.0" height="3.8" rx="1.2" fill="#b4b6b8"/>
<rect x="310.4" y="904.3" width="7.3" height="3.8" rx="1.2" fill="#b4b6b8"/>
<rect x="319.6" y="904.5" width="8.7" height="3.8" rx="1.2" fill="#4a4c50"/>
<rect x="331.3" y="904.2" width="7.1" height="3.8" rx="1.2" fill="#fbfbfb"/>
<rect x="333.4" y="904.5" width="2.8" height="1.4" fill="#5a5f66"/>
<rect x="340.7" y="904.5" width="6.0" height="3.8" rx="1.2" fill="#e2e3e4"/>
<rect x="342.5" y="904.8" width="2.4" height="1.4" fill="#5a5f66"/>
<rect x="348.4" y="904.0" width="7.4" height="3.8" rx="1.2" fill="#f6f6f6"/>
<rect x="350.6" y="904.3" width="3.0" height="1.4" fill="#5a5f66"/>
<rect x="358.6" y="904.2" width="6.6" height="3.8" rx="1.2" fill="#4a4c50"/>
<rect x="366.1" y="904.6" width="8.1" height="3.8" rx="1.2" fill="#ededee"/>
<rect x="368.5" y="904.9" width="3.3" height="1.4" fill="#5a5f66"/>
<rect x="376.9" y="904.1" width="7.8" height="3.8" rx="1.2" fill="#37393d"/>
<rect x="387.6" y="904.2" width="7.5" height="3.8" rx="1.2" fill="#b4b6b8"/>
<rect x="397.7" y="904.7" width="6.5" height="3.8" rx="1.2" fill="#37393d"/>
<rect x="406.3" y="904.0" width="8.2" height="3.8" rx="1.2" fill="#ededee"/>
<rect x="408.8" y="904.3" width="3.3" height="1.4" fill="#5a5f66"/>
<rect x="417.2" y="904.7" width="7.2" height="3.8" rx="1.2" fill="#e2e3e4"/>
<rect x="419.4" y="905.0" width="2.9" height="1.4" fill="#5a5f66"/>
<rect x="425.8" y="904.7" width="6.3" height="3.8" rx="1.2" fill="#ededee"/>
<rect x="427.7" y="905.0" width="2.5" height="1.4" fill="#5a5f66"/>
<rect x="247.3" y="909.5" width="8.0" height="4.7" rx="1.2" fill="#5e6165"/>
<rect x="257.8" y="909.5" width="8.4" height="4.7" rx="1.2" fill="#ededee"/>
<rect x="260.3" y="909.8" width="3.4" height="1.8" fill="#5a5f66"/>
<rect x="268.8" y="909.8" width="10.9" height="4.7" rx="1.2" fill="#f6f6f6"/>
<rect x="272.0" y="910.1" width="4.3" height="1.8" fill="#5a5f66"/>
<rect x="281.6" y="909.3" width="8.1" height="4.7" rx="1.2" fill="#e2e3e4"/>
<rect x="284.1" y="909.6" width="3.2" height="1.8" fill="#5a5f66"/>
<rect x="292.3" y="910.0" width="8.9" height="4.7" rx="1.2" fill="#e2e3e4"/>
<rect x="295.0" y="910.3" width="3.6" height="1.8" fill="#5a5f66"/>
<rect x="302.7" y="909.9" width="8.1" height="4.7" rx="1.2" fill="#ededee"/>
<rect x="305.1" y="910.2" width="3.3" height="1.8" fill="#5a5f66"/>
<rect x="313.2" y="910.0" width="9.6" height="4.7" rx="1.2" fill="#fbfbfb"/>
<rect x="316.1" y="910.3" width="3.8" height="1.8" fill="#5a5f66"/>
<rect x="325.4" y="909.6" width="7.4" height="4.7" rx="1.2" fill="#9c9fa2"/>
<rect x="333.8" y="909.7" width="9.7" height="4.7" rx="1.2" fill="#fbfbfb"/>
<rect x="336.7" y="910.0" width="3.9" height="1.8" fill="#5a5f66"/>
<rect x="345.8" y="909.6" width="7.6" height="4.7" rx="1.2" fill="#fbfbfb"/>
<rect x="348.1" y="909.9" width="3.0" height="1.8" fill="#5a5f66"/>
<rect x="354.8" y="909.7" width="10.7" height="4.7" rx="1.2" fill="#9a2a28"/>
<rect x="366.8" y="909.4" width="10.8" height="4.7" rx="1.2" fill="#fbfbfb"/>
<rect x="370.1" y="909.7" width="4.3" height="1.8" fill="#5a5f66"/>
<rect x="379.1" y="909.4" width="7.7" height="4.7" rx="1.2" fill="#ededee"/>
<rect x="381.4" y="909.7" width="3.1" height="1.8" fill="#5a5f66"/>
<rect x="389.3" y="909.6" width="7.7" height="4.7" rx="1.2" fill="#4a4c50"/>
<rect x="397.9" y="909.3" width="7.5" height="4.7" rx="1.2" fill="#ededee"/>
<rect x="400.2" y="909.6" width="3.0" height="1.8" fill="#5a5f66"/>
<rect x="408.3" y="909.9" width="10.4" height="4.7" rx="1.2" fill="#e2e3e4"/>
<rect x="411.4" y="910.2" width="4.1" height="1.8" fill="#5a5f66"/>
<rect x="421.1" y="909.3" width="9.1" height="4.7" rx="1.2" fill="#ededee"/>
<rect x="423.8" y="909.6" width="3.6" height="1.8" fill="#5a5f66"/>
<rect x="250.5" y="915.8" width="11.4" height="5.6" rx="1.2" fill="#c9cacc"/>
<rect x="263.9" y="916.4" width="10.9" height="5.6" rx="1.2" fill="#4a4c50"/>
<rect x="276.9" y="916.2" width="12.6" height="5.6" rx="1.2" fill="#c9cacc"/>
<rect x="290.4" y="916.0" width="9.0" height="5.6" rx="1.2" fill="#b4b6b8"/>
<rect x="301.2" y="916.1" width="9.1" height="5.6" rx="1.2" fill="#ededee"/>
<rect x="303.9" y="916.4" width="3.6" height="2.1" fill="#5a5f66"/>
<rect x="311.1" y="916.4" width="12.2" height="5.6" rx="1.2" fill="#c9cacc"/>
<rect x="324.3" y="915.9" width="11.0" height="5.6" rx="1.2" fill="#9c9fa2"/>
<rect x="336.2" y="915.9" width="9.9" height="5.6" rx="1.2" fill="#b4b6b8"/>
<rect x="348.4" y="916.1" width="10.8" height="5.6" rx="1.2" fill="#4a4c50"/>
<rect x="361.5" y="915.8" width="12.0" height="5.6" rx="1.2" fill="#ededee"/>
<rect x="365.1" y="916.1" width="4.8" height="2.1" fill="#5a5f66"/>
<rect x="374.6" y="916.2" width="9.9" height="5.6" rx="1.2" fill="#9c9fa2"/>
<rect x="385.6" y="916.3" width="10.8" height="5.6" rx="1.2" fill="#f6f6f6"/>
<rect x="388.9" y="916.6" width="4.3" height="2.1" fill="#5a5f66"/>
<rect x="398.8" y="916.1" width="10.0" height="5.6" rx="1.2" fill="#e2e3e4"/>
<rect x="401.8" y="916.4" width="4.0" height="2.1" fill="#5a5f66"/>
<rect x="411.3" y="916.5" width="13.0" height="5.6" rx="1.2" fill="#fbfbfb"/>
<rect x="415.2" y="916.8" width="5.2" height="2.1" fill="#5a5f66"/>
<rect x="427.1" y="916.5" width="8.9" height="5.6" rx="1.2" fill="#e2e3e4"/>
<rect x="429.8" y="916.8" width="3.6" height="2.1" fill="#5a5f66"/>
<rect x="250.6" y="923.4" width="14.8" height="6.5" rx="1.2" fill="#f6f6f6"/>
<rect x="255.0" y="923.7" width="5.9" height="2.5" fill="#5a5f66"/>
<rect x="267.3" y="924.0" width="14.9" height="6.5" rx="1.2" fill="#fbfbfb"/>
<rect x="271.8" y="924.3" width="6.0" height="2.5" fill="#5a5f66"/>
<rect x="284.6" y="923.6" width="11.4" height="6.5" rx="1.2" fill="#37393d"/>
<rect x="297.1" y="923.5" width="14.9" height="6.5" rx="1.2" fill="#9c9fa2"/>
<rect x="313.1" y="923.3" width="11.9" height="6.5" rx="1.2" fill="#fbfbfb"/>
<rect x="316.7" y="923.6" width="4.8" height="2.5" fill="#5a5f66"/>
<rect x="327.5" y="923.9" width="14.3" height="6.5" rx="1.2" fill="#ededee"/>
<rect x="331.8" y="924.2" width="5.7" height="2.5" fill="#5a5f66"/>
<rect x="344.6" y="923.6" width="11.7" height="6.5" rx="1.2" fill="#e2e3e4"/>
<rect x="348.2" y="923.9" width="4.7" height="2.5" fill="#5a5f66"/>
<rect x="359.0" y="924.0" width="10.7" height="6.5" rx="1.2" fill="#37393d"/>
<rect x="371.1" y="924.0" width="10.5" height="6.5" rx="1.2" fill="#c9cacc"/>
<rect x="383.0" y="923.9" width="11.6" height="6.5" rx="1.2" fill="#ededee"/>
<rect x="386.5" y="924.2" width="4.6" height="2.5" fill="#5a5f66"/>
<rect x="397.1" y="924.0" width="12.4" height="6.5" rx="1.2" fill="#e2e3e4"/>
<rect x="400.8" y="924.3" width="4.9" height="2.5" fill="#5a5f66"/>
<rect x="412.3" y="924.0" width="12.9" height="6.5" rx="1.2" fill="#b4b6b8"/>
<rect x="427.0" y="923.7" width="13.3" height="6.5" rx="1.2" fill="#fbfbfb"/>
<rect x="431.0" y="924.0" width="5.3" height="2.5" fill="#5a5f66"/>
<rect x="343" y="915" width="22" height="7" rx="1.5" fill="#8f2a2c"/>
<rect x="368" y="916" width="20" height="14" fill="#3f5a49"/>
<rect x="387" y="913.5" width="36" height="17" fill="#eef0f1"/>
<rect x="389.5" y="915" width="1" height="15" fill="#aeb3b8"/>
<rect x="394.1" y="915" width="1" height="15" fill="#aeb3b8"/>
<rect x="398.7" y="915" width="1" height="15" fill="#aeb3b8"/>
<rect x="403.3" y="915" width="1" height="15" fill="#aeb3b8"/>
<rect x="407.9" y="915" width="1" height="15" fill="#aeb3b8"/>
<rect x="412.5" y="915" width="1" height="15" fill="#aeb3b8"/>
<rect x="417.1" y="915" width="1" height="15" fill="#aeb3b8"/>
</g></g>
<g clip-path="url(#p2)"><g filter="url(#b1)">
<rect x="405" y="855" width="190" height="75" fill="#767472"/>
<rect x="405" y="855" width="190" height="22" fill="#b9bdc5"/>
<rect x="405" y="892" width="190" height="12.5" fill="#a6a6a8"/>
<path d="M455,866 Q500,857 600,860 L600,893 L455,893 Z" fill="#9ea2a8"/>
<path d="M455,866 Q500,857 600,860 L600,879 L455,882 Z" fill="#e3e6ea"/>
<rect x="500" y="860.5" width="22.5" height="20" fill="#474b52"/>
<rect x="502" y="861" width="19" height="6" fill="#8a7a78"/>
<rect x="471" y="868" width="6" height="13" fill="#3c4a66"/>
<path d="M408,880 Q412,871 430,871 L452,871 L452,889 L412,889 Z" fill="#dfe3e8"/>
<text x="415" y="880.2" font-size="5.4" font-weight="bold" font-style="italic" fill="#52628f" textLength="24" lengthAdjust="spacingAndGlyphs">TAB</text>
<rect x="410" y="889" width="44" height="4" fill="#6f747c"/>
<rect x="425" y="887" width="24" height="11" fill="#3a58a4"/><rect x="424" y="898" width="26" height="11" fill="#4b5160"/>
<rect x="432" y="893" width="6" height="12" fill="#4a68b0"/>
<rect x="420" y="907" width="32" height="4" fill="#3d3f46"/>
<rect x="450.3" y="864.5" width="9.2" height="41" fill="#6a2a22"/>
<rect x="452.5" y="866" width="2" height="38" fill="#3a1512"/>
<path d="M460,893 L464,881.5 L487,881.5 L489,893 L501,894 L501,909 L460,909 Z" fill="#c54a2c"/>
<rect x="466" y="883.5" width="8" height="8.5" fill="#5b6068"/><rect x="476" y="883.5" width="9" height="8.5" fill="#6d727a"/>
<circle cx="468" cy="908.5" r="5.3" fill="#23201f"/><circle cx="496.5" cy="907.5" r="5" fill="#23201f"/><circle cx="468" cy="908.5" r="2" fill="#8a8a8a"/><circle cx="496.5" cy="907.5" r="1.9" fill="#8a8a8a"/>
<text x="522" y="876.3" font-size="15" fill="#d5333a" stroke="#d5333a" stroke-width="0.35" textLength="42" lengthAdjust="spacingAndGlyphs">Florida</text>
<ellipse cx="555" cy="891.5" rx="14" ry="9.5" fill="#dde0e5"/>
<path d="M531,885.5 L566,885.5 L568,912 L563,912 L562,889.5 L536,889.5 L533,911 L529.5,911 Z" fill="#1c1c1c"/>
<rect x="548" y="888" width="2.6" height="24" fill="#1c1c1c"/>
<rect x="537" y="893" width="10" height="14" fill="#4d545c" opacity="0.7"/>
<path d="M521.5,910 L531,906.5 L563,909 L564.5,930 L521.5,930 Z" fill="#e2c22c"/>
<rect x="524" y="912" width="7" height="4" fill="#f3efe0"/>
<rect x="521.5" y="922" width="30" height="8" fill="#2a2a28"/>
<rect x="553" y="918" width="11" height="12" fill="#d9b926"/>
<ellipse cx="571" cy="901" rx="3" ry="3.2" fill="#d9c9a0"/><path d="M565.5,905 L577,905 L579,930 L564,930 Z" fill="#2d2b26"/>
</g></g>
<g clip-path="url(#p3)"><g filter="url(#b1)">
<rect x="565" y="855" width="160" height="75" fill="#3b342c"/>
<path d="M565,855 L720,855 L720,866 L655,875 L572,882 Z" fill="#cbc3b2"/>
<rect x="560" y="855" width="15.7" height="27" fill="#dcdde0"/>
<path d="M578,863.3 L611,860.8 L611,871.8 L578,874.2 Z" fill="#3c4049"/>
<path d="M614.5,857.5 L657,855.2 L657,867 L614.5,870.6 Z" fill="#3c4049"/>
<path d="M661,855 L720,855 L720,860.5 L661,864.5 Z" fill="#3c4049"/>
<rect x="585" y="855" width="1.2" height="20" fill="#b5ad9c"/>
<rect x="592" y="855" width="1.2" height="20" fill="#b5ad9c"/>
<rect x="599" y="855" width="1.2" height="20" fill="#b5ad9c"/>
<rect x="605" y="855" width="1.2" height="20" fill="#b5ad9c"/>
<rect x="623" y="855" width="1.2" height="20" fill="#b5ad9c"/>
<rect x="632" y="855" width="1.2" height="20" fill="#b5ad9c"/>
<rect x="641" y="855" width="1.2" height="20" fill="#b5ad9c"/>
<rect x="649" y="855" width="1.2" height="20" fill="#b5ad9c"/>
<rect x="672" y="855" width="1.2" height="20" fill="#b5ad9c"/>
<rect x="684" y="855" width="1.2" height="20" fill="#b5ad9c"/>
<rect x="696" y="855" width="1.2" height="20" fill="#b5ad9c"/>
<rect x="708" y="855" width="1.2" height="20" fill="#b5ad9c"/>
<path d="M573,880 L640,873.3 L720,865.5 L720,886.7 L651,890.7 L577,894.5 Z" fill="#eff1f3"/>
<text x="577" y="892" font-size="11" fill="#1a1a1a" style="font-family:'Liberation Serif',serif" transform="rotate(-3.5 577 892)" textLength="24.5" lengthAdjust="spacingAndGlyphs">NA S.A.</text>
<text x="608" y="887.6" font-size="4.6" font-style="italic" fill="#333" style="font-family:'Liberation Serif',serif" transform="rotate(-4.5 608 887.6)" textLength="42" lengthAdjust="spacingAndGlyphs">Almacenando su Confianza</text>
<linearGradient id="bo" x1="0" y1="0" x2="0" y2="1"><stop offset="0" stop-color="#c8322c"/><stop offset="0.38" stop-color="#d2402c"/><stop offset="0.5" stop-color="#e3c53a"/><stop offset="0.68" stop-color="#d8c03a"/><stop offset="0.8" stop-color="#3f8a3c"/><stop offset="1" stop-color="#2f6a32"/></linearGradient>
<g transform="rotate(-6 660 888.5)">
<path d="M660,888.5 C660.5,879 663.5,872 667.5,870.6 L671,870.6 C666.5,874 665.3,881 665,888.5 Z" fill="#1c2b1e"/>
<path d="M667.5,870.6 L671,870.6 C673,875 674.3,882 674.5,888.5 L669.6,888.5 C669.5,882 669,876 667.5,870.6 Z" fill="url(#bo)"/>
<rect x="664.5" y="881.5" width="6" height="1.8" fill="#1c2b1e"/>
<text x="675.8" y="887.6" font-size="19.6" font-weight="bold" fill="#1a2450" textLength="46.5" lengthAdjust="spacingAndGlyphs">LBO</text>
</g>
<path d="M655.6,892 L720,885.5 L720,919 L684.5,923 L671,914.2 Z" fill="#27437d"/>
<path d="M668,899 L720,894 L720,919 L690,922 Z" fill="#1a2f5c"/>
<path d="M591,896.4 L653.3,892 L671,914.2 L664.4,921 L626.7,912 L602.2,907.6 Z" fill="#d9a04e"/>
<path d="M600,899 L650,895.5 L659,906 L610,904 Z" fill="#e7b566"/>
<rect x="690" y="900" width="26" height="25.5" fill="#b8996a"/><rect x="690" y="905.5" width="26" height="1.2" fill="#7c6848"/><rect x="690" y="915" width="26" height="1.2" fill="#7c6848"/>
<rect x="694" y="897" width="10" height="4" fill="#c7a877"/>
<rect x="609" y="912" width="15.5" height="11" fill="#c2a274"/><rect x="591" y="908.7" width="13.5" height="10" fill="#b39466"/>
<rect x="593" y="921" width="92" height="9" fill="#b49868"/>
<rect x="630" y="916" width="30" height="6" fill="#9c8158"/>
<rect x="606" y="921" width="1.3" height="9" fill="#6f5c40"/>
<rect x="626" y="921" width="1.3" height="9" fill="#6f5c40"/>
<rect x="646" y="921" width="1.3" height="9" fill="#6f5c40"/>
<rect x="668" y="921" width="1.3" height="9" fill="#6f5c40"/>
</g></g>
</svg>
<svg width="720" height="960" viewBox="0 0 720 960">
<defs><linearGradient id="rb" x1="0" y1="0" x2="0.25" y2="1"><stop offset="0" stop-color="#e8202a"/><stop offset="0.2" stop-color="#f2652a"/><stop offset="0.42" stop-color="#f6e21c"/><stop offset="0.62" stop-color="#3fb54a"/><stop offset="0.8" stop-color="#2a7fd0"/><stop offset="1" stop-color="#7a3fa0"/></linearGradient></defs>
<path d="M39.2,896.7 C40,880 46,866 55,862.8 L67,862.8 C58,867 53,880 51.8,896.7 Z" fill="#0a0a0a"/>
<path d="M55,863 L66.5,863 C71,870 74.5,884 75.2,896.2 L62.8,896.2 C62.5,884 60,871 55,863 Z" fill="url(#rb)" stroke="#111" stroke-width="1"/>
<path d="M52.5,881.5 L61.5,883.5 L62,886.5 L52,885 Z" fill="#0a0a0a"/>
<text x="78.6" y="896.9" font-size="26.6" font-weight="bold" textLength="54.5" lengthAdjust="spacingAndGlyphs" fill="#0a0a0a" stroke="#0a0a0a" stroke-width="0.5">LBO</text>
<text x="144.4" y="896.9" font-size="26.6" font-weight="bold" textLength="46.4" lengthAdjust="spacingAndGlyphs" fill="#0a0a0a" stroke="#0a0a0a" stroke-width="0.5">S.A.</text>
<text x="38" y="907.8" font-size="10.3" textLength="154.5" lengthAdjust="spacingAndGlyphs" fill="#222">Almacenera Boliviana S.A.</text>
<text x="110.8" y="917.4" font-size="7.6" font-weight="bold" font-style="italic" style="font-family:'Liberation Serif',serif" textLength="113.4" lengthAdjust="spacingAndGlyphs" fill="#222">“Almacenando su confianza”</text>
</svg>
<div id="foot" class="abs"></div>
<div id="ft1" class="abs ft">Derechos Reservados © Instituto Boliviano de Comercio <span>Exterior (IBCE). Se podrá reproducir el contenido de esta publicación citando la fuente.</span></div>
<div id="ft2" class="abs ft">El IBCE no se hace responsable de la información que este Boletín contenga, siendo que se especifican las fuentes de donde se obtiene la misma.</div>
</body>
</html>
